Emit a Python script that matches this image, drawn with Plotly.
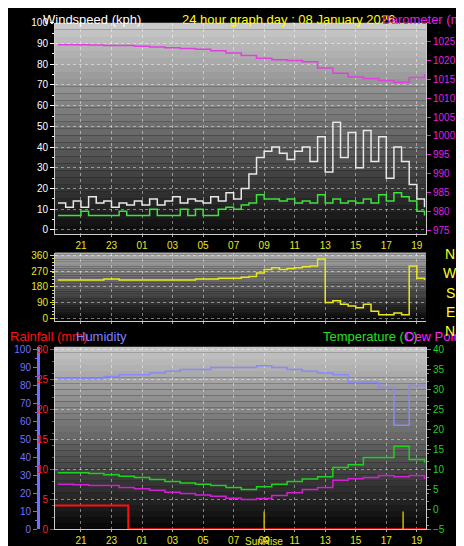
import plotly.graph_objects as go

# ---------------- data ----------------
t_hour = [19.5 + i for i in range(25)]
t_half = [19.5 + 0.5 * i for i in range(49)]

baro = [1024.2, 1024.2, 1024.1, 1024.0, 1024.0, 1023.8, 1023.6, 1023.4, 1023.2, 1023.0,
        1022.6, 1022.0, 1021.3, 1020.6, 1020.2, 1020.0, 1019.7, 1018.0, 1016.6, 1015.6,
        1015.2, 1014.7, 1014.2, 1015.5, 1016.4]

gust = [13, 11, 14, 11, 16, 13, 14, 11, 13, 12, 14, 12, 15, 12, 14, 16, 13, 15,
        14, 13, 16, 14, 18, 15, 20, 27, 35, 38, 40, 37, 34, 38, 40, 33,
        45, 28, 52, 35, 47, 30, 48, 33, 45, 25, 40, 33, 22, 15, 11]
avg = [7, 7, 7, 9, 7, 7, 7, 7, 9, 7, 7, 7, 10, 7, 7, 7, 10, 7,
       10, 7, 7, 10, 11, 10, 12, 13, 17, 15, 15, 14, 15, 13, 14, 13,
       17, 13, 15, 13, 14, 13, 15, 13, 17, 14, 18, 16, 14, 9, 7]
wdir = [220, 220, 220, 220, 220, 220, 225, 225, 220, 220, 220, 220, 220, 220, 220, 220, 220, 220,
        225, 225, 225, 230, 230, 230, 235, 240, 260, 280, 290, 280, 285, 290, 295, 300,
        340, 90, 100, 80, 70, 60, 80, 40, 20, 20, 30, 20, 300, 230, 220]

humidity = [84, 84, 84, 85, 86, 86, 87, 88, 89, 89, 90, 90, 90, 91, 90, 89, 88, 87, 86, 82,
            82, 79, 58, 80, 79]
temp = [9.2, 9.2, 9.0, 8.7, 8.3, 8.0, 7.5, 7.0, 6.6, 6.3, 6.0, 5.5, 5.0, 5.7, 6.3, 7.0, 7.6,
        8.2, 10.5, 11.2, 13.0, 13.0, 15.8, 12.5, 11.7]
dew = [6.3, 6.2, 6.0, 6.0, 5.5, 5.2, 4.8, 4.3, 4.0, 3.6, 3.3, 2.8, 2.5, 2.7, 3.5, 4.2, 5.0,
       5.5, 7.3, 7.7, 8.0, 8.5, 8.2, 8.5, 7.6]
rain_t = [19.3, 24.1, 24.1, 43.6]
rain = [4, 4, 0, 0]

hour_ticks = list(range(21, 44, 2))
hour_labels = ["%02d" % (h % 24) for h in hour_ticks]
sunrise, sunset = 33.0, 42.1

# ---------------- figure ----------------
FONT = "Liberation Sans"
fig = go.Figure()
fig.add_trace(go.Scatter(x=t_hour, y=baro, xaxis="x", yaxis="y2", mode="lines",
                         line=dict(color="#e040e0", width=1.5, shape="hv")))
fig.add_trace(go.Scatter(x=t_half, y=gust, xaxis="x", yaxis="y", mode="lines",
                         line=dict(color="#e8e8e8", width=1.5, shape="hv")))
fig.add_trace(go.Scatter(x=t_half, y=avg, xaxis="x", yaxis="y", mode="lines",
                         line=dict(color="#40e040", width=1.5, shape="hv")))
fig.add_trace(go.Scatter(x=t_half, y=wdir, xaxis="x2", yaxis="y3", mode="lines",
                         line=dict(color="#e8e820", width=1.5, shape="hv")))
fig.add_trace(go.Scatter(x=t_hour, y=humidity, xaxis="x3", yaxis="y5", mode="lines",
                         line=dict(color="#8888ff", width=1.5, shape="hv")))
fig.add_trace(go.Scatter(x=t_hour, y=temp, xaxis="x3", yaxis="y6", mode="lines",
                         line=dict(color="#20d020", width=1.5, shape="hv")))
fig.add_trace(go.Scatter(x=t_hour, y=dew, xaxis="x3", yaxis="y6", mode="lines",
                         line=dict(color="#d020d0", width=1.5, shape="hv")))
fig.add_trace(go.Scatter(x=rain_t, y=rain, xaxis="x3", yaxis="y4", mode="lines",
                         line=dict(color="#ff1010", width=2)))

H = 546.0
def dom(top, bot):
    return [1 - bot / H, 1 - top / H]

xdom = [47 / 464, 418 / 464]
grid = dict(showgrid=True, gridcolor="rgba(255,255,255,0.45)", griddash="dot", gridwidth=1)
tf = dict(family=FONT, size=10)

def xax(anchor, show):
    return dict(domain=xdom, anchor=anchor, range=[19.3, 43.6], tickvals=hour_ticks,
                ticktext=hour_labels, showticklabels=show, tickfont=dict(tf, color="#e8e820"),
                ticks="outside", ticklen=2, tickcolor="#aaaaaa", zeroline=False,
                showline=True, linecolor="#cccccc", mirror=False, **grid)

def yax(rng, vals, color, **kw):
    d = dict(range=rng, tickvals=vals, tickfont=dict(tf, color=color), ticks="outside",
             ticklen=4, tickcolor=color, zeroline=False, showline=True, linecolor="#cccccc",
             minor=dict(ticks="outside", ticklen=2, tickcolor=color, showgrid=False))
    d.update(kw)
    return d

fig.update_layout(
    width=464, height=546, margin=dict(l=0, r=0, t=0, b=0),
    paper_bgcolor="black", plot_bgcolor="black", showlegend=False,
    xaxis=xax("y", True), xaxis2=xax("y3", False), xaxis3=xax("y4", True),
    yaxis=yax([-1.9, 100], list(range(0, 101, 10)), "white",
              domain=dom(10, 225), anchor="x", **grid),
    yaxis2=yax([974.0, 1030], list(range(975, 1026, 5)), "#e020e0",
               overlaying="y", side="right", anchor="x", showgrid=False),
    yaxis3=yax([-17, 377], [0, 90, 180, 270, 360], "#e8e820", domain=dom(244, 314),
               anchor="x2", **grid),
    yaxis4=yax([0.0, 30.49], list(range(0, 31, 5)), "#ff2020", domain=dom(340, 526),
               anchor="x3", **grid),
    yaxis5=yax([0.0, 101.6], list(range(0, 101, 10)), "#7070ff", overlaying="y4",
               anchor="free", position=30 / 464, side="left", showgrid=False,
               linecolor="#7070ff", linewidth=3),
    yaxis6=yax([-5.0, 40.73], list(range(-5, 41, 5)), "#20d020", overlaying="y4",
               side="right", anchor="x3", showgrid=False),
)

# gradient backgrounds
shapes = []
for xa, ya, top, bot in [("x", "y", 205, 12), ("x2", "y3", 175, 5), ("x3", "y4", 200, 5)]:
    n = 30
    for i in range(n):
        f = i / n
        g = int(bot + (top - bot) * (f + 0.5 / n))
        shapes.append(dict(type="rect", xref=xa + " domain", yref=ya + " domain",
                           x0=0, x1=1, y0=f, y1=f + 1 / n,
                           fillcolor="rgb(%d,%d,%d)" % (g, g, g), line=dict(width=0), layer="below"))
for sx in (sunrise, sunset):
    shapes.append(dict(type="line", xref="x3", yref="y4", x0=sx, x1=sx, y0=0, y1=3,
                       line=dict(color="#c8b800", width=1.5)))
fig.update_layout(shapes=shapes)

ann = [
    dict(text="Windspeed (kph)", x=33, y=-3, color="white"),
    dict(text="24 hour graph day : 08 January 2026", x=172, y=-3, color="#ffff00"),
    dict(text="Barometer (mb)", x=372, y=-3, color="#e020e0"),
    dict(text="Rainfall (mm)", x=0, y=320, color="#ff1010"),
    dict(text="Humidity", x=66, y=320, color="#8080ff"),
    dict(text="Temperature (C)", x=313, y=320, color="#20e020"),
    dict(text="Dew Point (C)", x=395, y=320, color="#ff20ff"),
]
annotations = [dict(text=a["text"], xref="paper", yref="paper", x=a["x"] / 464, y=1 - a["y"] / H,
                    xanchor="left", yanchor="top", showarrow=False,
                    font=dict(family=FONT, size=13, color=a["color"])) for a in ann]
for lab, yy in zip(["N", "W", "S", "E", "N"], [246, 265, 285, 305, 324]):
    annotations.append(dict(text=lab, xref="paper", yref="paper", x=442 / 464, y=1 - yy / H,
                            xanchor="center", yanchor="middle", showarrow=False,
                            font=dict(family=FONT, size=14, color="#ffff20")))
annotations.append(dict(text="SunRise", xref="x3", yref="paper", x=sunrise, y=1 - 538 / H,
                        xanchor="center", yanchor="middle", showarrow=False,
                        font=dict(family=FONT, size=10, color="#e8e820")))
fig.update_layout(annotations=annotations)

fig.write_html("out.html")
